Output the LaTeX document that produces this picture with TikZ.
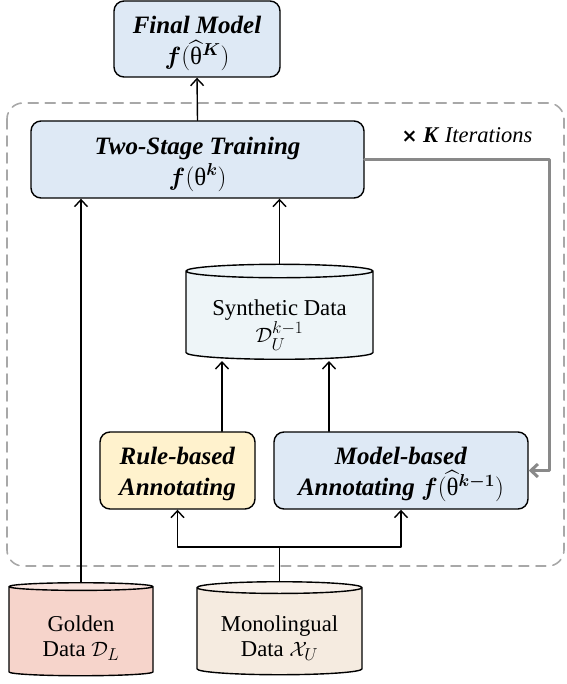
\documentclass[tikz,border=0pt]{standalone}
\usepackage{amsmath,amssymb}
\usepackage{fontspec}
\setmainfont{Liberation Serif}
\newfontfamily\symfont{DejaVu Sans}
\usetikzlibrary{arrows.meta,shapes.geometric}
\definecolor{boxblue}{HTML}{DEE9F5}
\definecolor{ruleyellow}{HTML}{FFF2CD}
\definecolor{synbody}{HTML}{EEF5F8}
\definecolor{goldbody}{HTML}{F6D4CB}
\definecolor{goldend}{HTML}{F9E5E0}
\definecolor{monobody}{HTML}{F5EBE0}
\definecolor{monoend}{HTML}{F9F2EC}
\definecolor{loopgray}{HTML}{A8A8A8}
\definecolor{backgray}{HTML}{898989}
\newcommand{\thet}{\textnormal{θ}}
\newcommand{\hthet}{\smash{\widehat{\thet}}}
\newcommand{\lift}[1]{\rule{0pt}{#1}}

\begin{document}
\begin{tikzpicture}[line cap=round,line join=round,x=1pt,y=-1pt,
	>={Straight Barb[length=7pt,width=13pt]},
	box/.style={draw,line width=1.4pt,rounded corners=10pt,align=center,inner sep=0pt,font=\fontsize{25}{31}\selectfont},
	db/.style={draw,line width=1.4pt,cylinder,shape border rotate=90,aspect=0.1,align=center,inner sep=0pt,font=\fontsize{22.7}{25}\selectfont},
	link/.style={->,line width=1.4pt},
	feedback/.style={->,line width=3pt,color=backgray}]
			\useasboundingbox (0,0) rectangle (566,684);
			\draw [line width=1.6pt,color=loopgray,dash pattern=on 10pt off 7pt,rounded corners=16pt] (7,103) rectangle (564,566);
			\node[box,fill=boxblue,minimum width=166pt,minimum height=76pt] (final) at (197,39) {\lift{27pt}\textbf{\textit{Final Model}}\\$\boldsymbol{f}(\hthet^{\boldsymbol{K}})$};
			\node[box,fill=boxblue,minimum width=333pt,minimum height=77pt] (train) at (197.5,159.5) {\lift{28pt}\textbf{\textit{Two-Stage Training}}\\$\boldsymbol{f}(\thet^{\boldsymbol{k}})$};
			\node[font=\fontsize{22.5}{25}\selectfont] (iter) at (467,135) {{\symfont\bfseries\fontsize{19}{20}\selectfont ×} \textbf{\textit{K}} \textit{Iterations}};
			\node[db,cylinder uses custom fill,cylinder body fill=synbody,cylinder end fill=synbody,minimum width=187pt,minimum height=95pt] (syn) at (279.5,315.5) {\lift{35pt}Synthetic Data\\$\mathcal{D}_U^{k-1}$};
			\node[box,fill=ruleyellow,minimum width=155pt,minimum height=77pt] (rule) at (177.5,470.5) {\lift{24pt}\textbf{\textit{Rule-based}}\\\textbf{\textit{Annotating}}};
			\node[box,fill=boxblue,minimum width=254pt,minimum height=77pt] (model) at (401,470.5) {\lift{25pt}\textbf{\textit{Model-based}}\\\textbf{\textit{Annotating}} $\boldsymbol{f}(\hthet^{\boldsymbol{k-1}})$};
			\node[db,cylinder uses custom fill,cylinder body fill=goldbody,cylinder end fill=goldend,minimum width=144pt,minimum height=93pt] (golden) at (81,631.5) {\lift{29pt}Golden\\Data $\mathcal{D}_L$};
			\node[db,cylinder uses custom fill,cylinder body fill=monobody,cylinder end fill=monoend,minimum width=165pt,minimum height=93pt] (mono) at (279.5,631.5) {\lift{29pt}Monolingual\\Data $\mathcal{X}_U$};
			\coordinate (synL) at (222,361);
			\coordinate (synR) at (329,361);
			\coordinate (split) at (279.5,547);
			\coordinate (back) at (549,160);
			\draw [link] (train.north) -- (final.south);
			\draw [link] (golden.north) -- (golden.north |- train.south);
			\draw [link] (syn.north) -- (syn.north |- train.south);
			\draw [link] (rule.north -| synL) -- (synL);
			\draw [link] (model.north -| synR) -- (synR);
			\draw [line width=1.4pt] (mono.north) -- (split);
			\draw [link] (split) -| (rule.south);
			\draw [link] (split) -| (model.south);
			\draw [feedback] (train.east |- back) -- (back) |- (model.east);
		\end{tikzpicture}
\end{document}
